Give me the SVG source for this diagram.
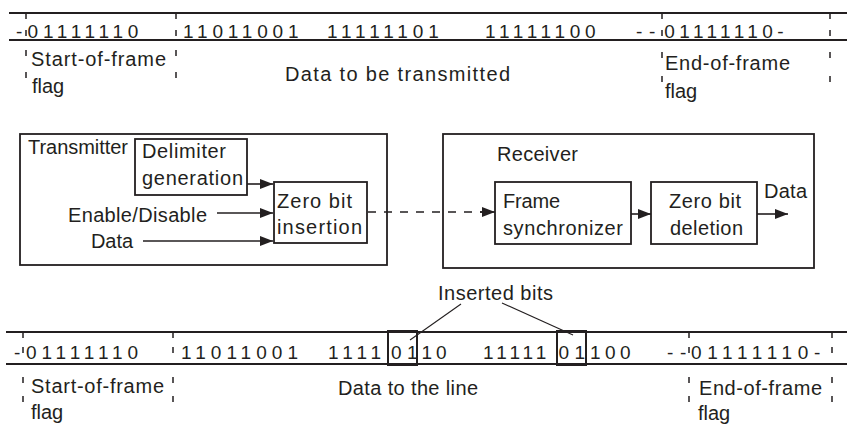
<svg xmlns="http://www.w3.org/2000/svg" width="847" height="425" viewBox="0 0 847 425">
<style>
  .lbl { font-family: "Liberation Sans", Arial, sans-serif; font-size: 20px; fill: #231f20; }
  .bits { font-family: "Liberation Sans", Arial, sans-serif; font-size: 19px; fill: #231f20; }
  .band { stroke: #231f20; stroke-width: 2; fill: none; }
  .tick { stroke: #231f20; stroke-width: 1.5; fill: none; }
  .box { stroke: #231f20; stroke-width: 1.8; fill: #fff; }
  .conn { stroke: #231f20; stroke-width: 1.6; fill: none; }
  .dash { stroke: #231f20; stroke-width: 1.6; fill: none; stroke-dasharray: 8 8; }
  .lead { stroke: #231f20; stroke-width: 1.1; fill: none; }
</style>
<defs>
  <marker id="arrow" markerUnits="userSpaceOnUse" markerWidth="13" markerHeight="10" refX="13" refY="5" orient="auto">
    <path d="M0,0 L13,5 L0,10 z" fill="#231f20"/>
  </marker>
</defs>
<rect width="847" height="425" fill="#fff"/>

<!-- Top frame: data to be transmitted -->
<g id="top-frame">
  <line class="band" x1="9" y1="13" x2="847" y2="13"/>
  <line class="band" x1="9" y1="40" x2="847" y2="40"/>
  <path class="tick" d="M26,13V19M26,30V36M26,50V56M26,72V78 M176,13V19M176,30V36M176,50V56M176,72V78 M662,13V19M662,30V36M662,52V58M662,76V82 M830,13V19M830,30V36M830,52V58M830,76V82"/>
  <text class="bits" x="16" y="37.5">-</text>
  <text class="bits" x="27.6" y="37.5" letter-spacing="4.74">01111110</text>
  <text class="bits" x="183" y="37.5" letter-spacing="4.84">11011001</text>
  <text class="bits" x="327" y="37.5" letter-spacing="4.89">11111101</text>
  <text class="bits" x="485" y="37.5" letter-spacing="4.74">11111100</text>
  <text class="bits" x="636" y="37.5">-</text>
  <text class="bits" x="649" y="37.5">-</text>
  <text class="bits" x="664.3" y="37.5" letter-spacing="4.44">01111110-</text>
  <text class="lbl" x="31" y="66" textLength="135" lengthAdjust="spacing">Start-of-frame</text>
  <text class="lbl" x="32" y="93">flag</text>
  <text class="lbl" x="285" y="81" textLength="225" lengthAdjust="spacing">Data to be transmitted</text>
  <text class="lbl" x="665" y="70" textLength="125" lengthAdjust="spacing">End-of-frame</text>
  <text class="lbl" x="665" y="98">flag</text>
</g>

<!-- Transmitter -->
<g id="transmitter">
  <rect class="box" x="20" y="134" width="367" height="131"/>
  <text class="lbl" x="28" y="154" textLength="100" lengthAdjust="spacing">Transmitter</text>
</g>
<g id="delimiter-generation">
  <rect class="box" x="135" y="139" width="112" height="56"/>
  <text class="lbl" x="142" y="158" textLength="84" lengthAdjust="spacing">Delimiter</text>
  <text class="lbl" x="142" y="185" textLength="101" lengthAdjust="spacing">generation</text>
</g>
<g id="zero-bit-insertion">
  <rect class="box" x="274" y="182" width="93" height="61"/>
  <text class="lbl" x="277" y="208" textLength="75" lengthAdjust="spacing">Zero bit</text>
  <text class="lbl" x="277" y="234" textLength="85" lengthAdjust="spacing">insertion</text>
</g>
<g id="input-enable">
  <text class="lbl" x="68" y="222" textLength="139" lengthAdjust="spacing">Enable/Disable</text>
</g>
<g id="input-data">
  <text class="lbl" x="91" y="248" textLength="42" lengthAdjust="spacing">Data</text>
</g>

<!-- Receiver -->
<g id="receiver">
  <rect class="box" x="443" y="134" width="371" height="134"/>
  <text class="lbl" x="497" y="161" textLength="81" lengthAdjust="spacing">Receiver</text>
</g>
<g id="frame-synchronizer">
  <rect class="box" x="495" y="182" width="136" height="62"/>
  <text class="lbl" x="503" y="208" textLength="57" lengthAdjust="spacing">Frame</text>
  <text class="lbl" x="503" y="235" textLength="120" lengthAdjust="spacing">synchronizer</text>
</g>
<g id="zero-bit-deletion">
  <rect class="box" x="651" y="182" width="106" height="62"/>
  <text class="lbl" x="669" y="208" textLength="72" lengthAdjust="spacing">Zero bit</text>
  <text class="lbl" x="670" y="235" textLength="73" lengthAdjust="spacing">deletion</text>
</g>
<g id="output-data">
  <text class="lbl" x="764" y="198" textLength="43" lengthAdjust="spacing">Data</text>
</g>

<!-- Connectors -->
<g id="connectors">
  <line class="conn" x1="247" y1="184" x2="273" y2="184" marker-end="url(#arrow)"/>
  <line class="conn" x1="217" y1="213" x2="273" y2="213" marker-end="url(#arrow)"/>
  <line class="conn" x1="143" y1="241" x2="273" y2="241" marker-end="url(#arrow)"/>
  <line class="dash" x1="368" y1="212" x2="482" y2="212"/>
  <line class="conn" x1="480" y1="212" x2="495" y2="212" marker-end="url(#arrow)"/>
  <line class="conn" x1="631" y1="214" x2="651" y2="214" marker-end="url(#arrow)"/>
  <line class="conn" x1="757" y1="214" x2="788" y2="214" marker-end="url(#arrow)"/>
  <line class="lead" x1="461" y1="304" x2="410" y2="340"/>
  <line class="lead" x1="502" y1="303" x2="573" y2="335"/>
</g>

<g id="inserted-bits-label">
  <text class="lbl" x="438" y="300" textLength="115" lengthAdjust="spacing">Inserted bits</text>
</g>

<!-- Bottom frame: data to the line -->
<g id="bottom-frame">
  <line class="band" x1="6" y1="332" x2="847" y2="332"/>
  <line class="band" x1="6" y1="364" x2="847" y2="364"/>
  <path class="tick" d="M23,332V338M23,347V353M23,377V383M23,396V402 M173,332V338M173,347V353M173,377V383M173,396V402 M689,332V338M689,347V353M689,377V383M689,396V402 M832,332V338M832,347V353M832,377V383M832,396V402"/>
  <rect class="band" x="388" y="331" width="29" height="34" stroke-width="1.6"/>
  <rect class="band" x="557" y="331" width="29" height="34" stroke-width="1.6"/>
  <text class="bits" x="14" y="358.5">-</text>
  <text class="bits" x="26" y="358.5" letter-spacing="4.94">01111110</text>
  <text class="bits" x="181" y="358.5" letter-spacing="5.04">11011001</text>
  <text class="bits" x="328" y="358.5" letter-spacing="5.04">1111</text>
  <text class="bits" x="391" y="358.5" letter-spacing="5.39">01</text>
  <text class="bits" x="421.5" y="358.5" letter-spacing="3.94">10</text>
  <text class="bits" x="483" y="358.5" letter-spacing="4.04">11111</text>
  <text class="bits" x="558.6" y="358.5" letter-spacing="5.39">01</text>
  <text class="bits" x="590" y="358.5" letter-spacing="4.44">100</text>
  <text class="bits" x="667" y="358.5">-</text>
  <text class="bits" x="680" y="358.5">-</text>
  <text class="bits" x="691" y="358.5" letter-spacing="5.69">01111110-</text>
  <text class="lbl" x="31" y="393" textLength="133" lengthAdjust="spacing">Start-of-frame</text>
  <text class="lbl" x="31" y="419">flag</text>
  <text class="lbl" x="338" y="395" textLength="140" lengthAdjust="spacing">Data to the line</text>
  <text class="lbl" x="699" y="395" textLength="123" lengthAdjust="spacing">End-of-frame</text>
  <text class="lbl" x="698" y="420">flag</text>
</g>
</svg>
